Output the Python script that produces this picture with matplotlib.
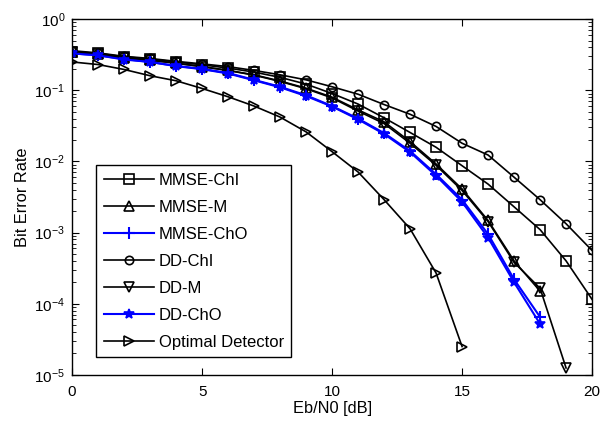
import numpy as np
import matplotlib
matplotlib.use("Agg")
import matplotlib.pyplot as plt
from matplotlib.ticker import LogLocator, NullFormatter, FixedLocator

plt.rcParams['font.family'] = ['Liberation Sans', 'DejaVu Sans']

snr = list(range(0, 21))

mmse_chi = [0.35, 0.33, 0.295, 0.275, 0.25, 0.228, 0.205, 0.18, 0.152, 0.122, 0.09,
            0.064, 0.041, 0.0255, 0.0158, 0.0087, 0.0048, 0.0023, 0.0011, 0.0004, 0.000115]
mmse_m = [0.34, 0.32, 0.285, 0.265, 0.24, 0.215, 0.19, 0.165, 0.135, 0.107, 0.08,
          0.053, 0.036, 0.019, 0.0092, 0.0041, 0.00148, 0.0004, 0.00015]
mmse_cho = [0.33, 0.31, 0.275, 0.25, 0.22, 0.20, 0.175, 0.14, 0.112, 0.085, 0.06,
            0.040, 0.025, 0.014, 0.0066, 0.0029, 0.00095, 0.00022, 0.000065]
dd_chi = [0.36, 0.335, 0.30, 0.28, 0.255, 0.235, 0.215, 0.19, 0.165, 0.14, 0.112,
          0.088, 0.063, 0.046, 0.031, 0.018, 0.0123, 0.006, 0.0029, 0.00133, 0.00056]
dd_m = [0.34, 0.32, 0.285, 0.265, 0.24, 0.215, 0.19, 0.163, 0.133, 0.105, 0.078,
        0.051, 0.034, 0.018, 0.0088, 0.0039, 0.00143, 0.00038, 0.000165, 0.0000125]
dd_cho = [0.33, 0.31, 0.27, 0.25, 0.218, 0.198, 0.172, 0.138, 0.11, 0.083, 0.059,
          0.039, 0.0243, 0.0135, 0.0063, 0.0027, 0.00085, 0.0002, 0.000052]
optimal = [0.25, 0.23, 0.196, 0.16, 0.136, 0.106, 0.081, 0.060, 0.042, 0.026, 0.0137,
           0.0071, 0.0029, 0.00113, 0.00027, 0.000025]

labels = ['MMSE-ChI', 'MMSE-M', 'MMSE-ChO', 'DD-ChI', 'DD-M', 'DD-ChO', 'Optimal Detector']

fig = plt.figure(figsize=(6.06, 4.25), dpi=100)
ax = fig.add_axes([0.119, 0.118, 0.858, 0.837])

blk = dict(color='black', lw=1.2, mfc='none', mec='black', mew=1.2)
ax.plot(snr[:len(mmse_chi)], mmse_chi, marker='s', ms=7, label=labels[0], **blk)
ax.plot(snr[:len(mmse_m)], mmse_m, marker='^', ms=7, label=labels[1], **blk)
ax.plot(snr[:len(mmse_cho)], mmse_cho, color='#0000ff', lw=1.5, marker='+', ms=9, mew=1.5,
        label=labels[2])
ax.plot(snr[:len(dd_chi)], dd_chi, marker='o', ms=6, label=labels[3], **blk)
ax.plot(snr[:len(dd_m)], dd_m, marker='v', ms=7, label=labels[4], **blk)
ax.plot(snr[:len(dd_cho)], dd_cho, color='#0000ff', lw=1.5, marker='*', ms=7, mew=1.2,
        label=labels[5])
ax.plot(snr[:len(optimal)], optimal, marker='>', ms=7, label=labels[6], **blk)

ax.set_yscale('log')
ax.set_xlim(0, 20)
ax.set_ylim(1e-5, 1)
ax.xaxis.set_major_locator(FixedLocator([0, 5, 10, 15, 20]))
ax.yaxis.set_major_locator(LogLocator(base=10, numticks=10))
ax.yaxis.set_minor_locator(LogLocator(base=10, subs=np.arange(2, 10), numticks=20))
ax.yaxis.set_minor_formatter(NullFormatter())
ax.tick_params(which='both', direction='in', top=True, right=True, labelsize=11)
ax.tick_params(axis='x', pad=7)
ax.tick_params(axis='y', pad=5)
ax.tick_params(which='major', length=5)
ax.tick_params(which='minor', length=3)
for s in ax.spines.values():
    s.set_linewidth(1.0)

ax.set_xlabel('Eb/N0 [dB]', fontsize=11.8, labelpad=2)
ax.set_ylabel('Bit Error Rate', fontsize=11.8, labelpad=3)

leg = ax.legend(loc='lower left', bbox_to_anchor=(0.046, 0.05), fontsize=12,
                handlelength=3.0, labelspacing=0.72, borderaxespad=0, fancybox=False,
                edgecolor='black', framealpha=1, borderpad=0.45, handletextpad=0.3)
leg.get_frame().set_linewidth(1.0)

fig.savefig('out.png', dpi=100)
